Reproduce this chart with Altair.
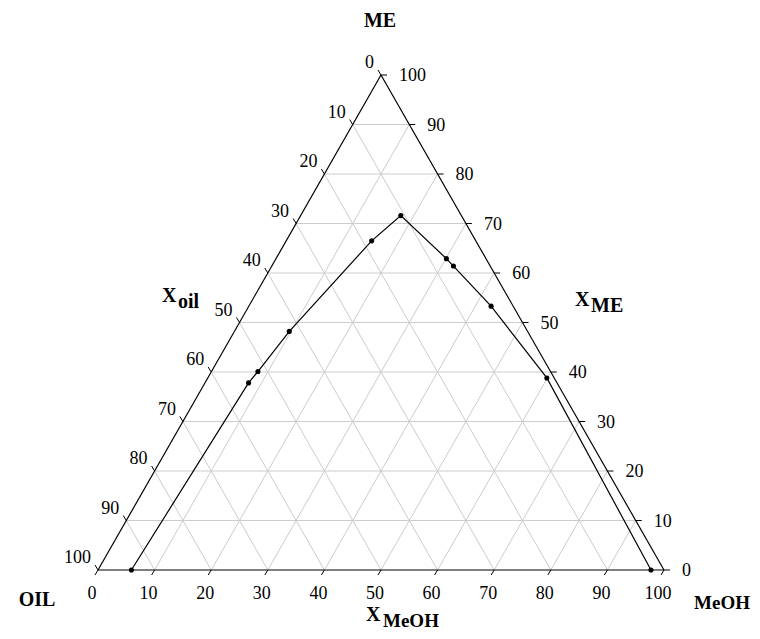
import altair as alt
import pandas as pd

# ---- data (percent) ----
tick_values = [0, 10, 20, 30, 40, 50, 60, 70, 80, 90, 100]
grid_levels = [10, 20, 30, 40, 50, 60, 70, 80, 90]
x_meoh = [5.9, 7.7, 8.2, 9.7, 15.1, 17.7, 30.1, 32.1, 42.8, 59.9, 97.7]
x_me = [0.0, 37.8, 40.1, 48.2, 66.5, 71.6, 62.9, 61.4, 53.3, 38.8, 0.0]

FONT = "Liberation Serif"
W, H = 566, 495

sx = alt.Scale(domain=[0, 1], nice=False, zero=False)
sy = alt.Scale(domain=[0, 1], nice=False, zero=False)

# ---- tables built from the arrays ----
pts = pd.DataFrame({"meoh": x_meoh, "me": x_me, "order": list(range(len(x_meoh)))})
pts["X"] = (pts["meoh"] + pts["me"] / 2) / 100
pts["Y"] = pts["me"] / 100

grid_rows = []
for k in grid_levels:
    f = k / 100
    grid_rows.append({"x": f / 2, "y": f, "x2": 1 - f / 2, "y2": f})
    grid_rows.append({"x": f, "y": 0, "x2": f + (1 - f) / 2, "y2": 1 - f})
    grid_rows.append({"x": 1 - f, "y": 0, "x2": (1 - f) / 2, "y2": 1 - f})
grid = pd.DataFrame(grid_rows)

edges = pd.DataFrame({"x": [0, 0, 1], "y": [0, 0, 0], "x2": [1, 0.5, 0.5], "y2": [0, 1, 1]})

bottom = pd.DataFrame({"lab": [str(v) for v in tick_values],
                       "x": [v / 100 for v in tick_values], "y": [0.0] * len(tick_values)})
left = pd.DataFrame({"lab": [str(v) for v in tick_values],
                     "x": [(1 - v / 100) / 2 for v in tick_values],
                     "y": [1 - v / 100 for v in tick_values]})
right = pd.DataFrame({"lab": [str(v) for v in tick_values],
                      "x": [1 - (v / 100) / 2 for v in tick_values],
                      "y": [v / 100 for v in tick_values]})


def seg(df, color, width, **kw):
    return alt.Chart(df).mark_rule(color=color, strokeWidth=width, **kw).encode(
        x=alt.X("x:Q", scale=sx, axis=None),
        y=alt.Y("y:Q", scale=sy, axis=None),
        x2="x2:Q", y2="y2:Q")


def tick(df, ox, oy):
    return alt.Chart(df).mark_rule(color="black", strokeWidth=1, x2Offset=ox, y2Offset=oy).encode(
        x=alt.X("x:Q", scale=sx, axis=None),
        y=alt.Y("y:Q", scale=sy, axis=None),
        x2="x:Q", y2="y:Q")


def labels(df, align, dx, dy):
    return alt.Chart(df).mark_text(font=FONT, fontSize=18, color="black", align=align,
                                   baseline="middle", dx=dx, dy=dy).encode(
        x=alt.X("x:Q", scale=sx, axis=None),
        y=alt.Y("y:Q", scale=sy, axis=None),
        text="lab:N")


def title(txt, px, py, size=20, align="center"):
    return alt.Chart(pd.DataFrame({"t": [txt]})).mark_text(
        font=FONT, fontSize=size, fontWeight="bold", color="black",
        align=align, baseline="middle").encode(
        x=alt.value(px), y=alt.value(py), text="t:N")


grid_layer = seg(grid, "#cccccc", 1)
edge_layer = seg(edges, "black", 1.2)

line = alt.Chart(pts).mark_line(color="black", strokeWidth=1.2).encode(
    x=alt.X("X:Q", scale=sx, axis=None),
    y=alt.Y("Y:Q", scale=sy, axis=None),
    order="order:Q")
points = alt.Chart(pts).mark_circle(color="black", size=26, opacity=1).encode(
    x=alt.X("X:Q", scale=sx, axis=None),
    y=alt.Y("Y:Q", scale=sy, axis=None))

chart = alt.layer(
    grid_layer,
    edge_layer,
    tick(bottom, -3, 5),
    tick(left, -3, -5),
    tick(right, 6, 0),
    labels(bottom, "center", -6, 24),
    labels(left, "right", -7, -12),
    labels(right, "left", 18, 1),
    line,
    points,
    title("ME", 282, -54),
    title("OIL", -61, 525),
    title("MeOH", 652, 528, size=19, align="right"),
    title("X", 64, 221, align="left"),
    title("oil", 80, 227, align="left"),
    title("X", 477, 225, align="left"),
    title("ME", 493, 231, align="left"),
    title("X", 268, 540, align="left"),
    title("MeOH", 285, 546, size=19, align="left"),
).properties(
    width=W, height=H,
    autosize=alt.AutoSizeParams(type="none"),
    padding={"left": 90, "top": 67, "right": 88, "bottom": 61},
).configure_view(stroke=None)

chart.save("out.html", embed_options={"renderer": "svg", "actions": False})
